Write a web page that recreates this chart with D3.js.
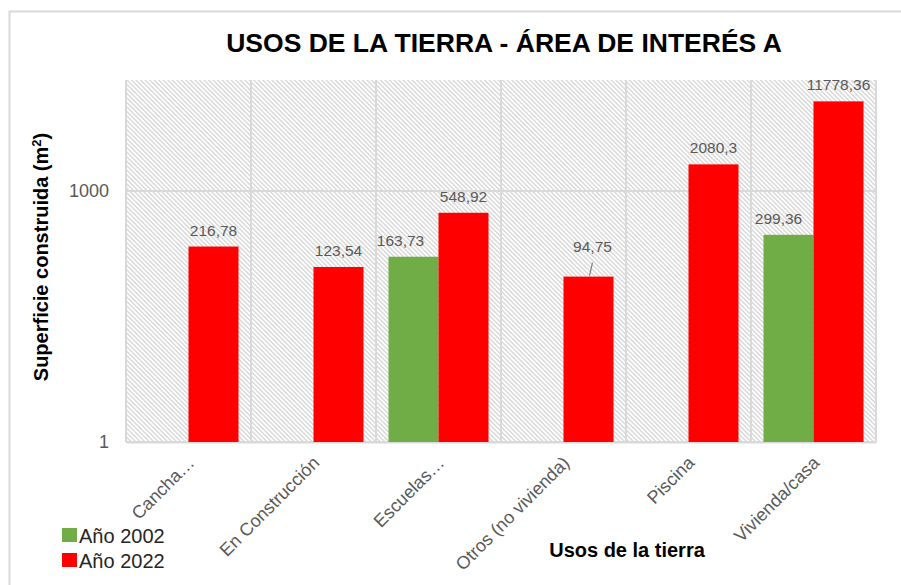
<!DOCTYPE html>
<html>
<head>
<meta charset="utf-8">
<script src="https://cdn.jsdelivr.net/npm/d3@7"></script>
<style>
  body { margin: 0; background: #fff; }
  svg { display: block; }
</style>
</head>
<body>
<script>
// data
const categories = ["Cancha…", "En Construcción", "Escuelas…", "Otros (no vivienda)", "Piscina", "Vivienda/casa"];
const series = ["Año 2002", "Año 2022"];
const values2002 = [null, null, 163.73, null, null, 299.36];
const values2022 = [216.78, 123.54, 548.92, 94.75, 2080.3, 11778.36];
const yTicks = [1, 1000];
const yMax = 21200;

const colors = { "Año 2002": "#70ad47", "Año 2022": "#ff0000" };
const SANS = "'Liberation Sans', Arial, sans-serif";

// small label nudges, like excel moving overlapping labels
const labelNudge = { "163,73": { dx: -13, dy: 0 }, "299,36": { dx: -10, dy: 0 }, "94,75": { dx: 4, dy: -14 } };

const W = 901, H = 585;
const margin = { top: 80, right: 25, bottom: 143, left: 126 };
const width = W - margin.left - margin.right;
const height = H - margin.top - margin.bottom;

const fmt = v => String(v).replace(".", ",");

const svg = d3.select("body").append("svg")
    .attr("width", W)
    .attr("height", H);

// chart frame
svg.append("rect")
    .attr("x", 9.5).attr("y", 11.5)
    .attr("width", W + 10).attr("height", H + 10)
    .attr("fill", "#fff")
    .attr("stroke", "#d9d9d9")
    .attr("stroke-width", 2);

const defs = svg.append("defs");
const pat = defs.append("pattern")
    .attr("id", "hatch")
    .attr("patternUnits", "userSpaceOnUse")
    .attr("width", 3.2).attr("height", 3.2)
    .attr("patternTransform", "rotate(-45)");
pat.append("rect").attr("width", 3.2).attr("height", 3.2).attr("fill", "#fff");
pat.append("line")
    .attr("x1", 0.7).attr("y1", 0).attr("x2", 0.7).attr("y2", 3.2)
    .attr("stroke", "#d4d4d4").attr("stroke-width", 1.3);

const g = svg.append("g")
    .attr("transform", `translate(${margin.left}, ${margin.top})`);

const x0 = d3.scaleBand()
    .domain(categories)
    .range([0, width])
    .paddingInner(0)
    .paddingOuter(0);

const x1 = d3.scaleBand()
    .domain(series)
    .range([0, x0.bandwidth()])
    .paddingOuter(0.25)
    .paddingInner(0);

const y = d3.scaleLog()
    .domain([1, yMax])
    .range([height, 0]);

// plot background hatch
g.append("rect")
    .attr("width", width).attr("height", height)
    .attr("fill", "url(#hatch)");

// gridlines
g.append("g")
    .selectAll("line")
    .data(yTicks)
    .join("line")
    .attr("x1", 0).attr("x2", width)
    .attr("y1", d => y(d)).attr("y2", d => y(d))
    .attr("stroke", "#d9d9d9").attr("stroke-width", 2);

const xGrid = categories.map(c => x0(c)).concat([width]);
g.append("g")
    .selectAll("line")
    .data(xGrid)
    .join("line")
    .attr("x1", d => d).attr("x2", d => d)
    .attr("y1", 0).attr("y2", height)
    .attr("stroke", "#d9d9d9").attr("stroke-width", 2);

// y axis labels
const yAxis = d3.axisLeft(y).tickValues(yTicks).tickFormat(d => d).tickSize(0).tickPadding(17);
g.append("g")
    .call(yAxis)
    .call(s => s.select(".domain").remove())
    .selectAll("text")
    .attr("font-family", SANS)
    .attr("font-size", 18)
    .attr("fill", "#595959");

// x axis labels, rotated
const xAxis = d3.axisBottom(x0).tickSize(0).tickPadding(0);
g.append("g")
    .attr("transform", `translate(0, ${height})`)
    .call(xAxis)
    .call(s => s.select(".domain").attr("stroke", "#d9d9d9").attr("stroke-width", 2))
    .selectAll("text")
    .attr("font-family", SANS)
    .attr("font-size", 18)
    .attr("fill", "#595959")
    .attr("text-anchor", "end")
    .attr("dy", 0)
    .attr("transform", "translate(7, 22) rotate(-45)");

// bars
const rows = categories.map((c, i) => ({
    cat: c,
    vals: [
        { s: "Año 2002", v: values2002[i] },
        { s: "Año 2022", v: values2022[i] }
    ].filter(d => d.v != null)
}));

const groups = g.selectAll(".grp")
    .data(rows)
    .join("g")
    .attr("class", "grp")
    .attr("transform", d => `translate(${x0(d.cat)}, 0)`);

groups.selectAll("rect")
    .data(d => d.vals)
    .join("rect")
    .attr("x", d => x1(d.s))
    .attr("y", d => y(d.v))
    .attr("width", x1.bandwidth())
    .attr("height", d => height - y(d.v))
    .attr("fill", d => colors[d.s]);

// data labels
groups.selectAll("text.lbl")
    .data(d => d.vals)
    .join("text")
    .attr("class", "lbl")
    .attr("x", d => x1(d.s) + x1.bandwidth() / 2 + ((labelNudge[fmt(d.v)] || {}).dx || 0))
    .attr("y", d => y(d.v) - 11 + ((labelNudge[fmt(d.v)] || {}).dy || 0))
    .attr("text-anchor", "middle")
    .attr("font-family", SANS)
    .attr("font-size", 15.5)
    .attr("fill", "#595959")
    .text(d => fmt(d.v));

// leader line for the moved label
groups.selectAll("line.lead")
    .data(d => d.vals.filter(v => labelNudge[fmt(v.v)] && labelNudge[fmt(v.v)].dy < 0))
    .join("line")
    .attr("class", "lead")
    .attr("x1", d => x1(d.s) + x1.bandwidth() / 2 + 1)
    .attr("y1", d => y(d.v) - 1)
    .attr("x2", d => x1(d.s) + x1.bandwidth() / 2 + 4)
    .attr("y2", d => y(d.v) - 14)
    .attr("stroke", "#7f7f7f")
    .attr("stroke-width", 1.2);

// title
svg.append("text")
    .attr("x", 504)
    .attr("y", 52)
    .attr("text-anchor", "middle")
    .attr("font-family", SANS)
    .attr("font-weight", "bold")
    .attr("font-size", 26.5)
    .attr("fill", "#000")
    .text("USOS DE LA TIERRA - ÁREA DE INTERÉS A");

// axis titles
const yTitle = svg.append("text")
    .attr("transform", `translate(48, 257) rotate(-90)`)
    .attr("text-anchor", "middle")
    .attr("font-family", SANS)
    .attr("font-weight", "bold")
    .attr("font-size", 20)
    .attr("fill", "#000");
yTitle.append("tspan").text("Superficie construida  (m");
yTitle.append("tspan").attr("baseline-shift", "super").attr("font-size", 13).text("2");
yTitle.append("tspan").text(")");

svg.append("text")
    .attr("x", 627)
    .attr("y", 557)
    .attr("text-anchor", "middle")
    .attr("font-family", SANS)
    .attr("font-weight", "bold")
    .attr("font-size", 20)
    .attr("fill", "#000")
    .text("Usos de la tierra");

// legend
const legend = svg.append("g")
    .attr("transform", "translate(62, 528)");

const item = legend.selectAll("g")
    .data(series)
    .join("g")
    .attr("transform", (d, i) => `translate(0, ${i * 25})`);

item.append("rect")
    .attr("width", 15).attr("height", 14)
    .attr("fill", d => colors[d]);

item.append("text")
    .attr("x", 17)
    .attr("y", 15)
    .attr("font-family", SANS)
    .attr("font-size", 20)
    .attr("fill", "#262626")
    .text(d => d);
</script>
</body>
</html>
